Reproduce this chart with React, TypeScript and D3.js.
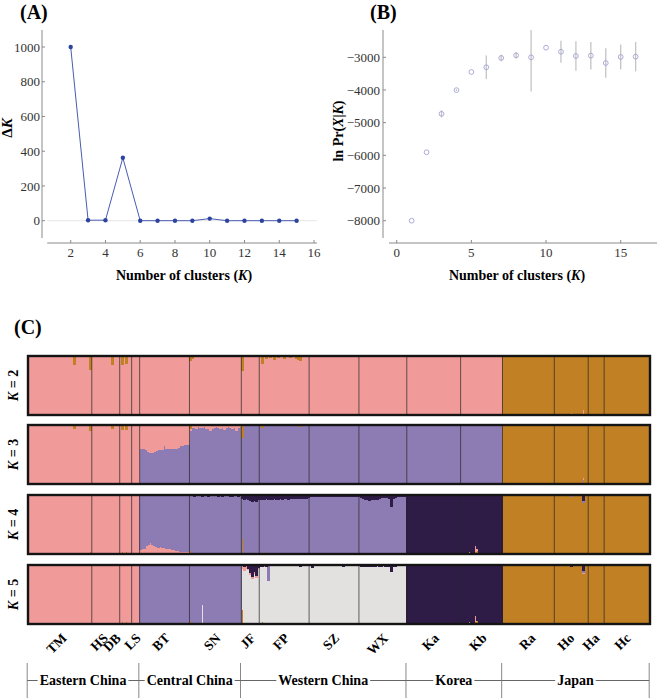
import React from "react";
import * as d3 from "d3";

// ---------- Panel A data ----------
const kValuesA = [2, 3, 4, 5, 6, 7, 8, 9, 10, 11, 12, 13, 14, 15];
const deltaK = [1000, 3, 3, 362, 0, 0, 0, 0, 12, 0, 0, 0, 0, 0];
const aTicksX = [2, 4, 6, 8, 10, 12, 14, 16];
const aTicksY = [0, 200, 400, 600, 800, 1000];

// ---------- Panel B data ----------
const kValuesB = [1, 2, 3, 4, 5, 6, 7, 8, 9, 10, 11, 12, 13, 14, 15, 16];
const lnPrMean = [-8000, -5905, -4730, -4005, -3450, -3305, -3020, -2940, -3000, -2705, -2830, -2960, -2950, -3175, -2990, -2980];
const lnPrSD = [0, 0, 110, 30, 0, 360, 100, 100, 1050, 0, 340, 450, 420, 450, 380, 450];
const bTicksX = [0, 5, 10, 15];
const bTicksY = [-8000, -7000, -6000, -5000, -4000, -3000];

// ---------- Panel C data ----------
const populations = ["TM", "HS", "DB", "LS", "BT", "SN", "JF", "FP", "SZ", "WX", "Ka", "Kb", "Ra", "Ho", "Ha", "Hc"];
const sampleSizes = [32, 14, 6, 4, 25, 26, 9, 25, 25, 24, 27, 21, 26, 17, 8, 23];
const regionNames = ["Eastern China", "Central China", "Western China", "Korea", "Japan"];
const regionPopCounts = [4, 2, 4, 2, 4];
const kLevels = [2, 3, 4, 5];

const clusterColors: Record<string, string> = {
  pink: "#f19a9a",
  orange: "#c08023",
  purple: "#8c7cb3",
  dark: "#2e1b46",
  gray: "#e2e1df",
};
const stackOrder: Record<number, string[]> = {
  2: ["pink", "orange"],
  3: ["purple", "pink", "orange"],
  4: ["orange", "pink", "purple", "dark"],
  5: ["orange", "gray", "pink", "purple", "dark"],
};

// dominant cluster of each population, per K
const k2Main = ["pink", "pink", "pink", "pink", "pink", "pink", "pink", "pink", "pink", "pink", "pink", "pink", "orange", "orange", "orange", "orange"];
const k3Main = ["pink", "pink", "pink", "pink", "pink", "purple", "purple", "purple", "purple", "purple", "purple", "purple", "orange", "orange", "orange", "orange"];
const k4Main = ["pink", "pink", "pink", "pink", "purple", "purple", "purple", "purple", "purple", "purple", "dark", "dark", "orange", "orange", "orange", "orange"];
const k5Main = ["pink", "pink", "pink", "pink", "purple", "purple", "gray", "gray", "gray", "gray", "dark", "dark", "orange", "orange", "orange", "orange"];

// per-individual membership profiles
const k3BTPurple = [0.6, 0.6, 0.59, 0.57, 0.55, 0.53, 0.52, 0.54, 0.56, 0.57, 0.57, 0.57, 0.64, 0.6, 0.6, 0.6, 0.6, 0.6, 0.6, 0.61, 0.65, 0.65, 0.66, 0.66, 0.66];
const k3SNPink = [0.04, 0.05, 0.05, 0.06, 0.04, 0.05, 0.05, 0.04, 0.06, 0.07, 0.1, 0.06, 0.05, 0.04, 0.05, 0.06, 0.05, 0.08, 0.05, 0.04, 0.05, 0.06, 0.05, 0.1, 0.05, 0.04];
const k4BTPink = [0.07, 0.08, 0.09, 0.13, 0.16, 0.18, 0.15, 0.13, 0.12, 0.11, 0.12, 0.11, 0.1, 0.08, 0.08, 0.09, 0.07, 0.06, 0.05, 0.05, 0.04, 0.04, 0.04, 0.03, 0.03];
const k4SNDark = [0.02, 0.02, 0.03, 0.02, 0.02, 0.02, 0.04, 0.02, 0.02, 0.03, 0.02, 0.02, 0.02, 0.02, 0.03, 0.02, 0.04, 0.02, 0.02, 0.02, 0.03, 0.04, 0.02, 0.02, 0.03, 0.02];
const k4JFDark = [0.07, 0.08, 0.07, 0.09, 0.11, 0.12, 0.11, 0.12, 0.09];
const k4FPDark = [0.08, 0.09, 0.08, 0.07, 0.08, 0.09, 0.08, 0.07, 0.08, 0.08, 0.07, 0.08, 0.07, 0.07, 0.08, 0.07, 0.07, 0.06, 0.07, 0.07, 0.06, 0.07, 0.06, 0.06, 0.05];
const k4SZDark = [0.04, 0.03, 0.04, 0.03, 0.03, 0.04, 0.03, 0.03, 0.03, 0.03, 0.03, 0.04, 0.03, 0.03, 0.03, 0.03, 0.03, 0.04, 0.03, 0.03, 0.03, 0.03, 0.03, 0.03, 0.04];
const k4WXDark = [0.04, 0.05, 0.06, 0.09, 0.09, 0.1, 0.09, 0.08, 0.09, 0.09, 0.06, 0.05, 0.05, 0.05, 0.05, 0.06, 0.21, 0.06, 0.05, 0.04, 0.04, 0.04, 0.04, 0.04];
const k5JFDark = [0.02, 0.04, 0.02, 0.07, 0.13, 0.2, 0.12, 0.18, 0.05];
const k5JFPink = [0.04, 0.06, 0.04, 0.02, 0.04, 0.03, 0.03, 0.04, 0.02];
const k5SZDark = [0.02, 0.05, 0.02, 0.01, 0.02, 0.02, 0.01, 0.02, 0.02, 0.01, 0.02, 0.02, 0.01, 0.02, 0.02, 0.01, 0.02, 0.03, 0.02, 0.01, 0.02, 0.02, 0.01, 0.02, 0.02];
const k5WXDark = [0.02, 0.03, 0.03, 0.04, 0.03, 0.03, 0.04, 0.03, 0.03, 0.02, 0.03, 0.03, 0.02, 0.03, 0.03, 0.04, 0.12, 0.03, 0.03, 0.02, 0.02, 0.02, 0.02, 0.02];

// single-individual admixture: [population, individual, cluster, proportion]
type Mix = [string, number, string, number];
const k2Mix: Mix[] = [
  ["TM", 8, "orange", 0.02], ["TM", 23, "orange", 0.15], ["TM", 31, "orange", 0.23], ["HS", 10, "orange", 0.16],
  ["DB", 1, "orange", 0.15], ["DB", 3, "orange", 0.13], ["SN", 0, "orange", 0.08], ["SN", 1, "orange", 0.05],
  ["SN", 15, "orange", 0.02], ["JF", 0, "orange", 0.25], ["FP", 1, "orange", 0.13], ["FP", 3, "orange", 0.05],
  ["FP", 5, "orange", 0.04], ["FP", 7, "orange", 0.06], ["FP", 9, "orange", 0.04], ["FP", 12, "orange", 0.05],
  ["FP", 15, "orange", 0.03], ["FP", 18, "orange", 0.05], ["FP", 19, "orange", 0.06], ["FP", 20, "orange", 0.09],
  ["WX", 5, "orange", 0.02], ["Ho", 8, "pink", 0.03], ["Ho", 14, "pink", 0.08], ["Hc", 14, "pink", 0.02],
];
const k3Mix: Mix[] = [
  ["TM", 23, "orange", 0.07], ["TM", 31, "orange", 0.1], ["HS", 10, "orange", 0.07], ["DB", 1, "orange", 0.08],
  ["DB", 3, "orange", 0.08], ["SN", 0, "orange", 0.07], ["JF", 0, "orange", 0.22], ["JF", 2, "pink", 0.02],
  ["FP", 1, "orange", 0.05], ["FP", 6, "orange", 0.02], ["FP", 12, "orange", 0.02], ["FP", 20, "orange", 0.03],
  ["Ra", 10, "purple", 0.02], ["Ho", 8, "purple", 0.02], ["Ho", 14, "purple", 0.06], ["Ho", 14, "pink", 0.04],
  ["Hc", 14, "pink", 0.02],
];
const k4Mix: Mix[] = [
  ["TM", 23, "orange", 0.02], ["TM", 31, "orange", 0.03], ["HS", 10, "orange", 0.02], ["DB", 1, "orange", 0.03],
  ["DB", 3, "orange", 0.03], ["SN", 0, "orange", 0.05], ["JF", 0, "orange", 0.25], ["FP", 1, "orange", 0.03],
  ["Ka", 5, "pink", 0.02], ["Ka", 12, "pink", 0.01], ["Kb", 4, "pink", 0.04], ["Kb", 7, "pink", 0.1],
  ["Kb", 7, "orange", 0.04], ["Kb", 8, "orange", 0.05], ["Kb", 8, "pink", 0.03], ["Ho", 8, "purple", 0.04],
  ["Ho", 14, "dark", 0.1], ["Ho", 14, "purple", 0.04], ["Hc", 14, "dark", 0.02],
];
const k5Mix: Mix[] = [
  ["TM", 23, "orange", 0.02], ["TM", 31, "orange", 0.02], ["HS", 10, "orange", 0.02], ["DB", 1, "orange", 0.03],
  ["DB", 3, "orange", 0.03], ["SN", 0, "orange", 0.05], ["SN", 6, "gray", 0.33], ["JF", 0, "orange", 0.24],
  ["FP", 0, "dark", 0.04], ["FP", 1, "dark", 0.03], ["FP", 1, "orange", 0.03], ["FP", 2, "pink", 0.03],
  ["FP", 3, "dark", 0.04], ["FP", 4, "purple", 0.27], ["FP", 20, "dark", 0.03], ["Ka", 5, "pink", 0.02],
  ["Kb", 4, "pink", 0.04], ["Kb", 7, "pink", 0.1], ["Kb", 7, "orange", 0.04], ["Kb", 8, "orange", 0.05],
  ["Ho", 8, "dark", 0.03], ["Ho", 14, "dark", 0.1], ["Ho", 14, "purple", 0.03], ["Ho", 14, "pink", 0.02],
  ["Hc", 14, "pink", 0.02],
];

const mainByK: Record<number, string[]> = { 2: k2Main, 3: k3Main, 4: k4Main, 5: k5Main };
const mixByK: Record<number, Mix[]> = { 2: k2Mix, 3: k3Mix, 4: k4Mix, 5: k5Mix };
const profiles: { k: number; pop: string; cluster: string; values: number[] }[] = [
  { k: 3, pop: "BT", cluster: "purple", values: k3BTPurple },
  { k: 3, pop: "SN", cluster: "pink", values: k3SNPink },
  { k: 4, pop: "BT", cluster: "pink", values: k4BTPink },
  { k: 4, pop: "SN", cluster: "dark", values: k4SNDark },
  { k: 4, pop: "JF", cluster: "dark", values: k4JFDark },
  { k: 4, pop: "FP", cluster: "dark", values: k4FPDark },
  { k: 4, pop: "SZ", cluster: "dark", values: k4SZDark },
  { k: 4, pop: "WX", cluster: "dark", values: k4WXDark },
  { k: 5, pop: "JF", cluster: "dark", values: k5JFDark },
  { k: 5, pop: "JF", cluster: "pink", values: k5JFPink },
  { k: 5, pop: "SZ", cluster: "dark", values: k5SZDark },
  { k: 5, pop: "WX", cluster: "dark", values: k5WXDark },
];

const FONT = "Liberation Serif, Times New Roman, serif";
const labelNudge: Record<string, number> = { TM: 1.5, HS: -3, DB: -10, LS: 0, Ho: -2, Ha: -2, Hc: -1.5, Ra: 2 };

function buildRows(k: number) {
  const rows: Record<string, number>[] = [];
  populations.forEach((pop, p) => {
    const main = mainByK[k][p];
    for (let j = 0; j < sampleSizes[p]; j++) {
      const row: Record<string, number> = { pink: 0, orange: 0, purple: 0, dark: 0, gray: 0 };
      row[main] = 1;
      profiles.filter((pr) => pr.k === k && pr.pop === pop).forEach((pr) => {
        row[pr.cluster] += pr.values[j];
        row[main] -= pr.values[j];
      });
      mixByK[k].filter((m) => m[0] === pop && m[1] === j).forEach((m) => {
        row[m[2]] += m[3];
        row[main] -= m[3];
      });
      rows.push(row);
    }
  });
  return rows;
}

function textWidth(text: string, font: string) {
  const ctx = document.createElement("canvas").getContext("2d");
  if (!ctx) return text.length * 7;
  ctx.font = font;
  return ctx.measureText(text).width;
}

export default function App() {
  const axisColor = "#8a8a8a";
  const tickText = "#333";

  // Panel A
  const xA = d3.scaleLinear().domain([2, 16]).range([70.7, 314]);
  const yA = d3.scaleLinear().domain([0, 1000]).range([220.7, 47]);
  const lineA = d3.line<number>().x((_, i) => xA(kValuesA[i])).y((d) => yA(d));

  // Panel B
  const xB = d3.scaleLinear().domain([0, 15]).range([396.7, 620.7]);
  const yB = d3.scaleLinear().domain([-8000, -3000]).range([220.7, 57.3]);
  const plotTopB = 30;

  // Panel C
  const nTotal = d3.sum(sampleSizes);
  const xS = d3.scaleLinear().domain([0, nTotal]).range([28, 650]);
  const popStart = Array.from(d3.cumsum([0, ...sampleSizes]));
  const barTops = [356, 425, 495, 565];
  const barH = 59;
  const regionBounds = Array.from(d3.cumsum([0, ...regionPopCounts])).map((pi) => xS(popStart[pi]));
  const regionFont = `bold 14px "Liberation Serif"`;

  return (
    <svg width={660} height={700} style={{ position: "absolute", left: 0, top: 0, background: "#fff" }} fontFamily={FONT}>
      {/* ================= Panel A ================= */}
      <text x={20} y={19} fontSize={20} fontWeight="bold">(A)</text>
      <line x1={xA(0.65)} x2={xA(16.17)} y1={yA(0)} y2={yA(0)} stroke="#e6e6e6" strokeWidth={1} />
      <line x1={42} x2={42} y1={30} y2={238} stroke={axisColor} strokeWidth={1} />
      <line x1={xA(0.65)} x2={xA(16.17)} y1={243} y2={243} stroke={axisColor} strokeWidth={1} />
      {aTicksY.map((t) => (
        <g key={"ay" + t}>
          <line x1={42} x2={45} y1={yA(t)} y2={yA(t)} stroke={axisColor} />
          <text x={40} y={yA(t)} dy="0.35em" textAnchor="end" fontSize={13} fill={tickText}>{t}</text>
        </g>
      ))}
      {aTicksX.map((t) => (
        <g key={"ax" + t}>
          <line x1={xA(t)} x2={xA(t)} y1={243} y2={240} stroke={axisColor} />
          <text x={xA(t)} y={257} textAnchor="middle" fontSize={13} fill={tickText}>{t}</text>
        </g>
      ))}
      <path d={lineA(deltaK) || ""} fill="none" stroke="#4a5cb0" strokeWidth={1} />
      {deltaK.map((d, i) => (
        <circle key={"pa" + i} cx={xA(kValuesA[i])} cy={yA(d)} r={2.2} fill="#2c44a0" />
      ))}
      <text transform="translate(12,128) rotate(-90)" textAnchor="middle" fontSize={15} fontWeight="bold">
        Δ<tspan fontStyle="italic">K</tspan>
      </text>
      <text x={184} y={280} textAnchor="middle" fontSize={14} fontWeight="bold">
        Number of clusters (<tspan fontStyle="italic">K</tspan>)
      </text>

      {/* ================= Panel B ================= */}
      <text x={370} y={19} fontSize={20} fontWeight="bold">(B)</text>
      <line x1={383} x2={383} y1={30} y2={238} stroke={axisColor} strokeWidth={1} />
      <line x1={389} x2={657} y1={243} y2={243} stroke={axisColor} strokeWidth={1} />
      {bTicksY.map((t) => (
        <g key={"by" + t}>
          <line x1={383} x2={386} y1={yB(t)} y2={yB(t)} stroke={axisColor} />
          <text x={380} y={yB(t)} dy="0.35em" textAnchor="end" fontSize={13} fill={tickText}>{"\u2212" + Math.abs(t)}</text>
        </g>
      ))}
      {bTicksX.map((t) => (
        <g key={"bx" + t}>
          <line x1={xB(t)} x2={xB(t)} y1={243} y2={240} stroke={axisColor} />
          <text x={xB(t)} y={257} textAnchor="middle" fontSize={13} fill={tickText}>{t}</text>
        </g>
      ))}
      {lnPrMean.map((m, i) =>
        lnPrSD[i] > 0 ? (
          <line key={"eb" + i} x1={xB(kValuesB[i])} x2={xB(kValuesB[i])}
            y1={Math.max(plotTopB, yB(m + lnPrSD[i]))} y2={yB(m - lnPrSD[i])}
            stroke="#c4c4c4" strokeWidth={1.3} />
        ) : null
      )}
      {lnPrMean.map((m, i) => (
        <circle key={"pb" + i} cx={xB(kValuesB[i])} cy={yB(m)} r={2.4} fill="none" stroke="#a3a3d4" strokeWidth={0.9} />
      ))}
      <text transform="translate(343,131) rotate(-90)" textAnchor="middle" fontSize={14} fontWeight="bold">
        ln Pr(<tspan fontStyle="italic">X</tspan>|<tspan fontStyle="italic">K</tspan>)
      </text>
      <text x={517} y={280} textAnchor="middle" fontSize={14} fontWeight="bold">
        Number of clusters (<tspan fontStyle="italic">K</tspan>)
      </text>

      {/* ================= Panel C ================= */}
      <text x={14} y={334} fontSize={20} fontWeight="bold">(C)</text>
      {kLevels.map((k, ki) => {
        const top = barTops[ki];
        const yS = d3.scaleLinear().domain([0, 1]).range([top + barH, top]);
        const rows = buildRows(k);
        const series = d3.stack<Record<string, number>>().keys(stackOrder[k])(rows);
        return (
          <g key={"k" + k}>
            <g shapeRendering="crispEdges">
              {series.map((s) => (
                <g key={s.key} fill={clusterColors[s.key]}>
                  {s.map((d, i) =>
                    d[1] - d[0] > 0.0005 ? (
                      <rect key={i} x={Math.floor(xS(i))} width={Math.ceil(xS(i + 1)) - Math.floor(xS(i))}
                        y={yS(d[1])} height={yS(d[0]) - yS(d[1])} />
                    ) : null
                  )}
                </g>
              ))}
            </g>
            {popStart.slice(1, -1).map((ps, pi) => (
              <line key={"dv" + pi} x1={xS(ps)} x2={xS(ps)} y1={top} y2={top + barH}
                stroke="#262626" strokeOpacity={0.7} strokeWidth={1} />
            ))}
            <rect x={28} y={top} width={622} height={barH} fill="none" stroke="#141414" strokeWidth={2.4} />
            <text transform={`translate(18,${top + barH / 2}) rotate(-90)`} textAnchor="middle" fontSize={14} fontWeight="bold">
              <tspan fontStyle="italic">K</tspan> = {k}
            </text>
          </g>
        );
      })}

      {/* population labels */}
      {populations.map((pop, p) => {
        const cx = (xS(popStart[p]) + xS(popStart[p + 1])) / 2;
        const ax = cx + 6 + (labelNudge[pop] || 0);
        return (
          <text key={"pl" + pop} transform={`translate(${ax},639) rotate(-45)`} textAnchor="end" fontSize={13.5} fontWeight="bold">
            {pop}
          </text>
        );
      })}

      {/* region brackets */}
      {regionBounds.map((bx, i) => (
        <line key={"rb" + i} x1={bx - 0.8} x2={bx - 0.8} y1={663} y2={698} stroke="#888" strokeWidth={1} />
      ))}
      {regionNames.map((name, r) => {
        const x0 = regionBounds[r] - 0.8;
        const x1 = regionBounds[r + 1] - 0.8;
        const cx = (x0 + x1) / 2;
        const w = textWidth(name, regionFont);
        return (
          <g key={"rn" + r}>
            <line x1={x0} x2={cx - w / 2 - 2} y1={680.5} y2={680.5} stroke="#666" strokeWidth={1} />
            <line x1={cx + w / 2 + 2} x2={x1} y1={680.5} y2={680.5} stroke="#666" strokeWidth={1} />
            <text x={cx} y={685} textAnchor="middle" fontSize={14} fontWeight="bold">{name}</text>
          </g>
        );
      })}
    </svg>
  );
}
